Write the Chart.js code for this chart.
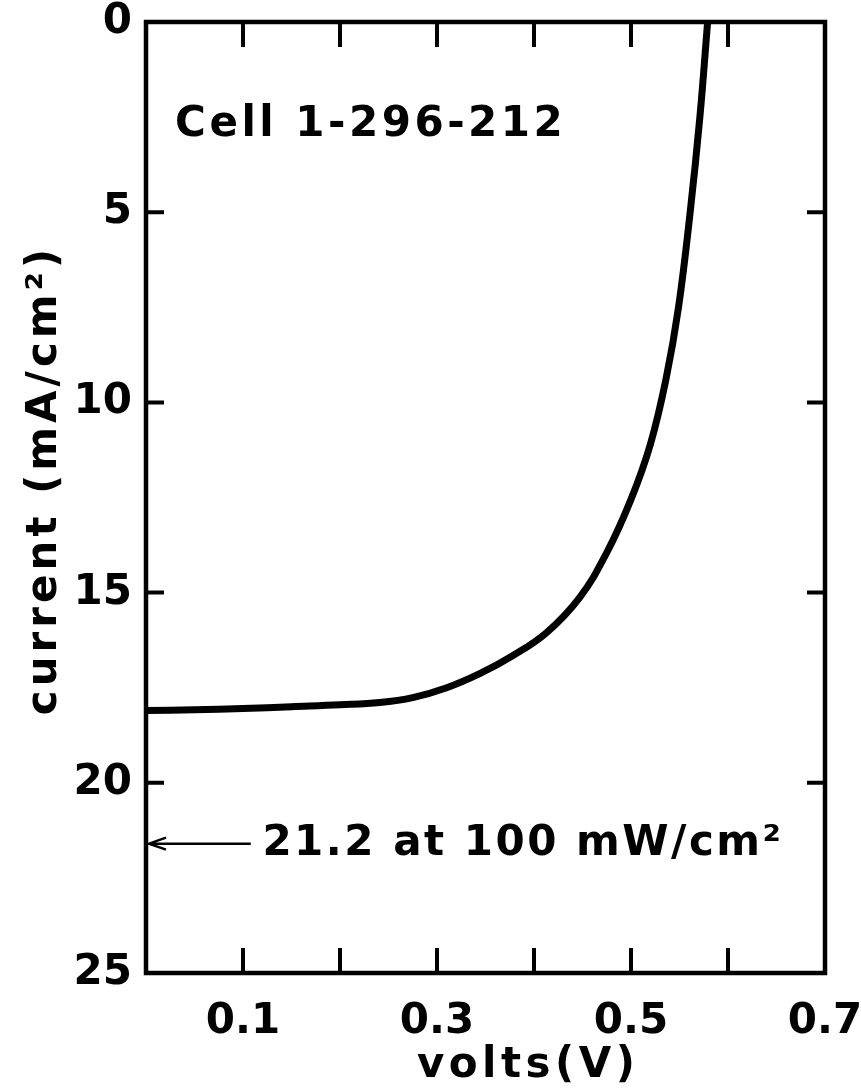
<!DOCTYPE html>
<html>
<head>
<meta charset="utf-8">
<script src="https://cdn.jsdelivr.net/npm/chart.js@4.4.1/dist/chart.umd.min.js"></script>
<style>
  body { margin: 0; background: #fff; }
</style>
</head>
<body>
<canvas id="iv" width="861" height="1089"></canvas>
<script>
// I-V curve (volts, mA/cm2)
const volts   = [0, 0.05, 0.10, 0.15, 0.20, 0.241, 0.275, 0.31, 0.344, 0.378, 0.413, 0.447, 0.475, 0.500, 0.520, 0.536, 0.549, 0.561, 0.571, 0.579];
const current = [18.1, 18.08, 18.05, 18.0, 17.95, 17.89, 17.76, 17.5, 17.13, 16.66, 16.05, 15.13, 13.95, 12.55, 11.1, 9.4, 7.5, 5.0, 2.5, 0];
const xTickLabels = ['0.1', '0.3', '0.5', '0.7'];
const yTickStep = 5;
const cellLabel = 'Cell 1-296-212';
const arrowLabel = '21.2 at 100 mW/cm²';
const arrowAt = 21.6;
const xTitle = 'volts(V)';
const yTitle = 'current (mA/cm²)';

const font = '"DejaVu Sans", sans-serif';

const framePlugin = {
  id: 'frame',
  beforeDatasetsDraw(chart) {
    const { ctx, chartArea: a, scales: { x, y } } = chart;
    ctx.save();
    ctx.strokeStyle = '#000';
    ctx.lineWidth = 4.5;
    ctx.strokeRect(a.left, a.top, a.right - a.left, a.bottom - a.top);
    ctx.lineWidth = 4;
    ctx.beginPath();
    x.ticks.forEach(t => {
      if (t.value <= x.min + 1e-9 || t.value >= x.max - 1e-9) return;
      const px = x.getPixelForValue(t.value);
      ctx.moveTo(px, a.bottom); ctx.lineTo(px, a.bottom - 25);
      ctx.moveTo(px, a.top); ctx.lineTo(px, a.top + 25);
    });
    y.ticks.forEach(t => {
      if (t.value <= y.min || t.value >= y.max) return;
      const py = y.getPixelForValue(t.value);
      ctx.moveTo(a.left, py); ctx.lineTo(a.left + 18, py);
      ctx.moveTo(a.right, py); ctx.lineTo(a.right - 18, py);
    });
    ctx.stroke();
    ctx.restore();
  },
  afterDraw(chart) {
    const { ctx, chartArea: a, scales: { x, y } } = chart;
    ctx.save();
    ctx.fillStyle = '#000';
    ctx.strokeStyle = '#000';
    ctx.font = 'bold 42px ' + font;
    ctx.textBaseline = 'alphabetic';

    ctx.letterSpacing = '3.5px';
    ctx.fillText(cellLabel, x.getPixelForValue(0.03), y.getPixelForValue(3.0));

    ctx.letterSpacing = '2.5px';
    const ay = y.getPixelForValue(arrowAt);
    ctx.textBaseline = 'middle';
    ctx.fillText(arrowLabel, x.getPixelForValue(0.12), ay);

    // arrow pointing at the axis
    ctx.lineWidth = 2.5;
    ctx.beginPath();
    ctx.moveTo(x.getPixelForValue(0.108), ay);
    ctx.lineTo(a.left + 3, ay);
    ctx.moveTo(a.left + 20, ay - 6);
    ctx.lineTo(a.left + 3, ay);
    ctx.lineTo(a.left + 20, ay + 6);
    ctx.stroke();

    // axis titles
    ctx.textAlign = 'center';
    ctx.letterSpacing = '4.5px';
    ctx.fillText(xTitle, x.getPixelForValue(0.394), 1066);
    ctx.letterSpacing = '4px';
    ctx.translate(45, 480);
    ctx.rotate(-Math.PI / 2);
    ctx.fillText(yTitle, 0, 0);
    ctx.restore();
  }
};

new Chart(document.getElementById('iv'), {
  type: 'line',
  data: {
    labels: volts,
    datasets: [{
      data: volts.map((v, i) => ({ x: v, y: current[i] })),
      borderColor: '#000',
      borderWidth: 7,
      pointRadius: 0,
      tension: 0.4,
      fill: false
    }]
  },
  options: {
    responsive: false,
    animation: false,
    layout: { padding: { top: 22, right: 36, left: 0, bottom: 0 } },
    plugins: { legend: { display: false }, tooltip: { enabled: false } },
    scales: {
      x: {
        type: 'linear',
        min: 0,
        max: 0.7,
        grid: { display: false, drawTicks: false },
        border: { display: false },
        ticks: {
          stepSize: 0.1,
          padding: 24,
          color: '#000',
          font: { family: font, size: 42, weight: 'bold' },
          maxRotation: 0,
          autoSkip: false,
          callback: v => {
            const s = v.toFixed(1);
            return xTickLabels.includes(s) ? s : '';
          }
        },
        afterFit: s => { s.height = 116; s.paddingLeft = 0; s.paddingRight = 0; }
      },
      y: {
        type: 'linear',
        reverse: true,
        min: 0,
        max: 25,
        grid: { display: false, drawTicks: false },
        border: { display: false },
        ticks: {
          stepSize: yTickStep,
          padding: 14,
          color: '#000',
          font: { family: font, size: 42, weight: 'bold' }
        },
        afterFit: s => { s.width = 146; s.paddingTop = 0; s.paddingBottom = 0; }
      }
    }
  },
  plugins: [framePlugin]
});
</script>
</body>
</html>
